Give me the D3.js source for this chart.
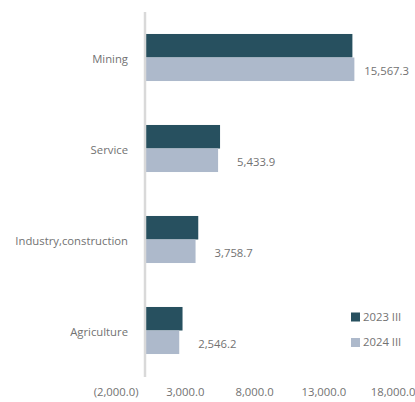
<!DOCTYPE html>
<html>
<head>
<meta charset="utf-8">
<script src="https://cdn.jsdelivr.net/npm/d3@7/dist/d3.min.js"></script>
<style>
  html, body { margin: 0; padding: 0; background: #fff; }
  svg text { font-family: "Open Sans", "Noto Sans", sans-serif; fill: #727272; }
</style>
</head>
<body>
<svg id="chart" width="415" height="402"></svg>
<script>
// Employment sectors, top to bottom
const categories = ["Mining", "Service", "Industry,construction", "Agriculture"];
const seriesNames = ["2023 III", "2024 III"];
const values2023 = [15420, 5580, 3960, 2790];
const values2024 = [15567.3, 5433.9, 3758.7, 2546.2];
const tickValues = [-2000, 3000, 8000, 13000, 18000];
const colors = ["#27505f", "#adb9cb"];

const svg = d3.select("#chart");
const fontSize = 11.3;
const x0 = 145, pxPerUnit = 0.01345;
const x = d3.scaleLinear()
  .domain([-2000, 18000])
  .range([x0 - 2000 * pxPerUnit, x0 + 18000 * pxPerUnit]);

const y = d3.scaleBand().domain(categories).range([12, 376]).paddingInner(0.483).paddingOuter(0.2415);
const sub = d3.scaleBand().domain(seriesNames).range([0, y.bandwidth()]);

const series = [values2023, values2024];
const fmt = v => v < 0 ? "(" + d3.format(",.1f")(-v) + ")" : d3.format(",.1f")(v);

// bars
categories.forEach((c, i) => {
  series.forEach((vals, s) => {
    svg.append("rect")
      .attr("x", x(0))
      .attr("y", y(c) + sub(seriesNames[s]))
      .attr("width", x(vals[i]) - x(0))
      .attr("height", sub.bandwidth())
      .attr("fill", colors[s]);
  });
});

// vertical axis line at zero
svg.append("line")
  .attr("x1", x(0)).attr("x2", x(0))
  .attr("y1", 12).attr("y2", 377)
  .attr("stroke", "#d9d9d9").attr("stroke-width", 2.5);

// category labels
svg.selectAll(".cat").data(categories).enter().append("text")
  .attr("class", "cat")
  .attr("x", 128)
  .attr("y", d => y(d) + y.bandwidth() / 2 + 1.5)
  .attr("dy", "0.35em")
  .attr("text-anchor", "end")
  .attr("font-size", fontSize)
  .text(d => d);

// value labels for 2024 series
categories.forEach((c, i) => {
  const t = svg.append("text")
    .attr("y", y(c) + sub(seriesNames[1]) + sub.bandwidth() / 2 + 2)
    .attr("dy", "0.35em")
    .attr("font-size", fontSize)
    .text(fmt(values2024[i]));
  const w = t.node().getComputedTextLength();
  t.attr("x", Math.min(x(values2024[i]) + 19, 409 - w));
});

// bottom tick labels
svg.selectAll(".tick").data(tickValues).enter().append("text")
  .attr("class", "tick")
  .attr("x", d => x(d) + (d - 3000) * 0.0004)
  .attr("y", 396)
  .attr("text-anchor", "middle")
  .attr("font-size", fontSize)
  .text(fmt);

// legend
seriesNames.forEach((n, s) => {
  const ly = 317 + s * 25.5;
  svg.append("rect").attr("x", 351).attr("y", ly - 4.5).attr("width", 9).attr("height", 9).attr("fill", colors[s]);
  svg.append("text").attr("x", 363).attr("y", ly).attr("dy", "0.35em").attr("font-size", fontSize).text(n);
});
</script>
</body>
</html>
